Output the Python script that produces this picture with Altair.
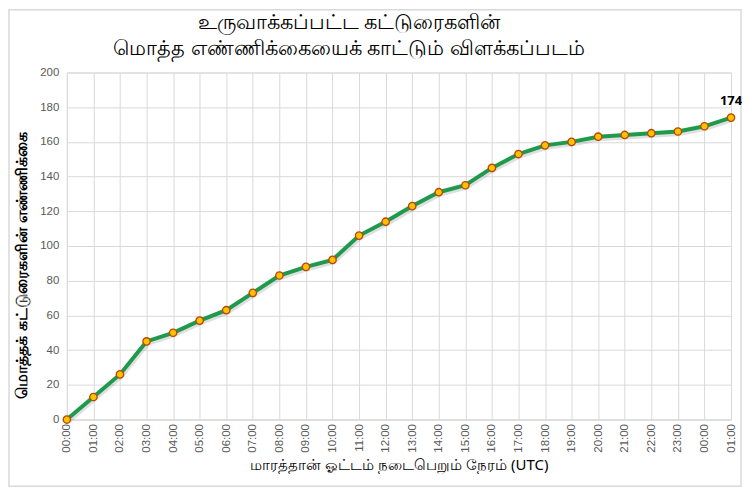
import altair as alt
import pandas as pd

hours = ["00:00", "01:00", "02:00", "03:00", "04:00", "05:00", "06:00", "07:00",
         "08:00", "09:00", "10:00", "11:00", "12:00", "13:00", "14:00", "15:00",
         "16:00", "17:00", "18:00", "19:00", "20:00", "21:00", "22:00", "23:00",
         "00:00", "01:00"]
totals = [0, 13, 26, 45, 50, 57, 63, 73, 83, 88, 92, 106, 114, 123, 131, 135,
          145, 153, 158, 160, 163, 164, 165, 166, 169, 174]
title_lines = ["உருவாக்கப்பட்ட கட்டுரைகளின்",
               "மொத்த எண்ணிக்கையைக் காட்டும் விளக்கப்படம்"]

df = pd.DataFrame({"idx": list(range(len(hours))), "hour": hours, "total": totals})
last = df.tail(1)

label_expr = "[" + ",".join("'%s'" % h for h in hours) + "][datum.value]"

FONT = "Noto Sans"
W, H = 666, 348

x = alt.X("idx:Q",
          scale=alt.Scale(domain=[0, len(hours) - 1], nice=False, zero=False),
          axis=alt.Axis(values=list(range(len(hours))), labelExpr=label_expr,
                        labelAngle=270, labelAlign="right", labelBaseline="middle",
                        labelFontSize=11.5, labelColor="#595959", labelPadding=4,
                        ticks=False, domain=True, domainColor="#d9d9d9",
                        gridColor="#d9d9d9",
                        title="மாரத்தான் ஓட்டம் நடைபெறும் நேரம் (UTC)",
                        titleFontSize=15, titleFontWeight="normal",
                        titleColor="#000000", titlePadding=5, titleFont=FONT))
y = alt.Y("total:Q",
          scale=alt.Scale(domain=[0, 200], nice=False),
          axis=alt.Axis(values=list(range(0, 201, 20)), labelFontSize=11.5,
                        labelColor="#595959", ticks=False, domain=False,
                        gridColor="#d9d9d9", labelPadding=8,
                        title="மொத்தக் கட்டுரைகளின் எண்ணிக்கை",
                        titleFontSize=16, titleFontWeight="bold",
                        titleColor="#000000", titlePadding=10, titleFont=FONT,
                        titleY=193))

base = alt.Chart(df)

shadow = base.mark_line(color="#7f7f7f", strokeWidth=5, opacity=0.25,
                        yOffset=2, xOffset=1).encode(x=x, y=y)
line = base.mark_line(color="#1f9a4c", strokeWidth=4).encode(x=x, y=y)
pts = base.mark_point(filled=True, fill="#FFC000", stroke="#b5470b",
                      strokeWidth=1.3, size=55, opacity=1).encode(x=x, y=y)
lbl = alt.Chart(last).mark_text(dy=-17, fontSize=13, fontWeight="bold",
                                color="#000000", font=FONT).encode(
    x=x, y=y, text="total:Q")

tdf = pd.DataFrame({"t": title_lines, "row": [0, 1]})
title1 = alt.Chart(tdf.head(1)).mark_text(fontSize=21, color="#000000", font=FONT,
                                          align="center", baseline="middle").encode(
    x=alt.value(283), y=alt.value(-50), text="t:N")
title2 = alt.Chart(tdf.tail(1)).mark_text(fontSize=21, color="#000000", font=FONT,
                                          align="center", baseline="middle").encode(
    x=alt.value(283), y=alt.value(-24), text="t:N")

border = alt.Chart(df.head(1)).mark_rect(fill=None, stroke="#d9d9d9",
                                         strokeWidth=1.5).encode(
    x=alt.value(-58), x2=alt.value(W + 10), y=alt.value(-63), y2=alt.value(H + 67))

chart = alt.layer(border, shadow, line, pts, lbl, title1, title2).properties(
    width=W, height=H,
    autosize=alt.AutoSizeParams(type="none"),
    padding={"left": 59, "top": 64, "right": 11, "bottom": 70},
).configure_view(stroke=None).configure(background="white")

chart.save("out.html", embed_options={"renderer": "svg", "actions": False})
